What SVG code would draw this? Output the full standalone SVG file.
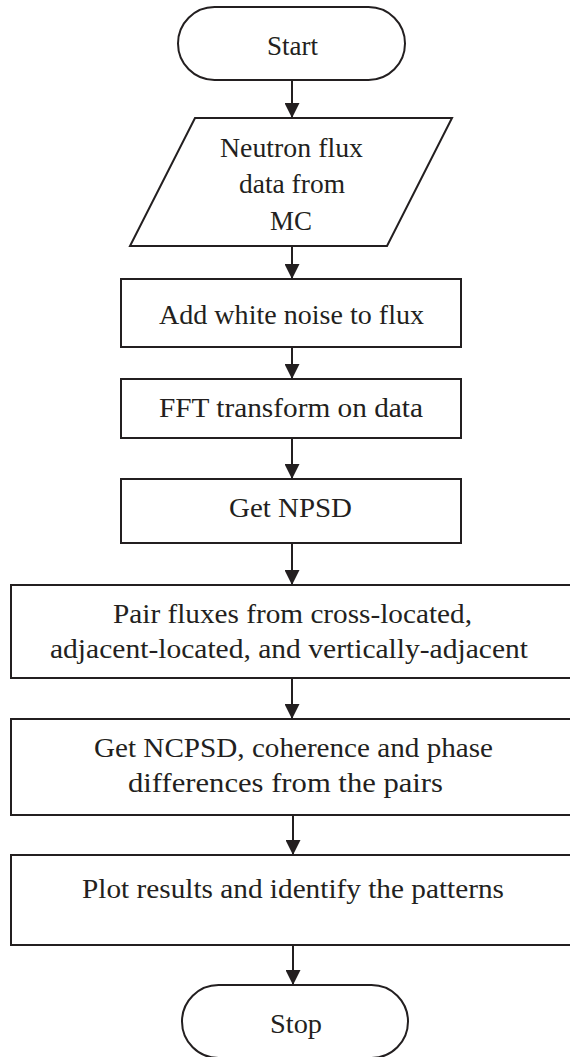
<svg xmlns="http://www.w3.org/2000/svg" width="570" height="1057" viewBox="0 0 570 1057">
<defs>
<style>
.n{fill:#fff;stroke:#231f20;stroke-width:2}
.t{font-family:"Liberation Serif","Times New Roman",serif;font-size:28px;fill:#231f20}
.c{stroke:#231f20;stroke-width:2;fill:none}
</style>
<marker id="ah" markerWidth="15" markerHeight="15" viewBox="0 0 15 15" refX="15" refY="7.5" orient="auto" markerUnits="userSpaceOnUse">
<path d="M0,0 L15,7.5 L0,15 Z" fill="#231f20"/>
</marker>
</defs>
<rect width="570" height="1057" fill="#fff"/>
<g id="connectors">
<line class="c" x1="292" y1="80" x2="292" y2="118" marker-end="url(#ah)"/>
<line class="c" x1="292" y1="246" x2="292" y2="279" marker-end="url(#ah)"/>
<line class="c" x1="292" y1="347" x2="292" y2="379" marker-end="url(#ah)"/>
<line class="c" x1="292" y1="438" x2="292" y2="479" marker-end="url(#ah)"/>
<line class="c" x1="292" y1="543" x2="292" y2="585" marker-end="url(#ah)"/>
<line class="c" x1="292" y1="678" x2="292" y2="719" marker-end="url(#ah)"/>
<line class="c" x1="293" y1="815" x2="293" y2="855" marker-end="url(#ah)"/>
<line class="c" x1="293" y1="945" x2="293" y2="985" marker-end="url(#ah)"/>
</g>
<g id="start">
<rect class="n" x="178" y="7" width="227" height="73" rx="36.5" ry="36.5"/>
<text class="t" x="267" y="55" textLength="51" lengthAdjust="spacingAndGlyphs">Start</text>
</g>
<g id="input">
<polygon class="n" points="195,118 452,118 387,246 130,246"/>
<text class="t" x="220" y="157" textLength="143" lengthAdjust="spacingAndGlyphs">Neutron flux</text>
<text class="t" x="239" y="193" textLength="106" lengthAdjust="spacingAndGlyphs">data from</text>
<text class="t" x="270" y="230" textLength="42" lengthAdjust="spacingAndGlyphs">MC</text>
</g>
<g id="noise">
<rect class="n" x="121" y="279" width="340" height="68"/>
<text class="t" x="159" y="324" textLength="265" lengthAdjust="spacingAndGlyphs">Add white noise to flux</text>
</g>
<g id="fft">
<rect class="n" x="121" y="379" width="340" height="59"/>
<text class="t" x="159" y="417" textLength="264" lengthAdjust="spacingAndGlyphs">FFT transform on data</text>
</g>
<g id="npsd">
<rect class="n" x="121" y="479" width="340" height="64"/>
<text class="t" x="229" y="517" textLength="123" lengthAdjust="spacingAndGlyphs">Get NPSD</text>
</g>
<g id="pair">
<rect class="n" x="11" y="585" width="570" height="93"/>
<text class="t" x="113" y="623" textLength="359" lengthAdjust="spacingAndGlyphs">Pair fluxes from cross-located,</text>
<text class="t" x="50" y="658" textLength="478" lengthAdjust="spacingAndGlyphs">adjacent-located, and vertically-adjacent</text>
</g>
<g id="ncpsd">
<rect class="n" x="11" y="719" width="570" height="96"/>
<text class="t" x="94" y="757" textLength="399" lengthAdjust="spacingAndGlyphs">Get NCPSD, coherence and phase</text>
<text class="t" x="128" y="792" textLength="315" lengthAdjust="spacingAndGlyphs">differences from the pairs</text>
</g>
<g id="plot">
<rect class="n" x="11" y="855" width="570" height="90"/>
<text class="t" x="82" y="898" textLength="422" lengthAdjust="spacingAndGlyphs">Plot results and identify the patterns</text>
</g>
<g id="stop">
<rect class="n" x="182" y="985" width="226" height="73" rx="36.5" ry="36.5"/>
<text class="t" x="270" y="1033" textLength="52" lengthAdjust="spacingAndGlyphs">Stop</text>
</g>
</svg>
